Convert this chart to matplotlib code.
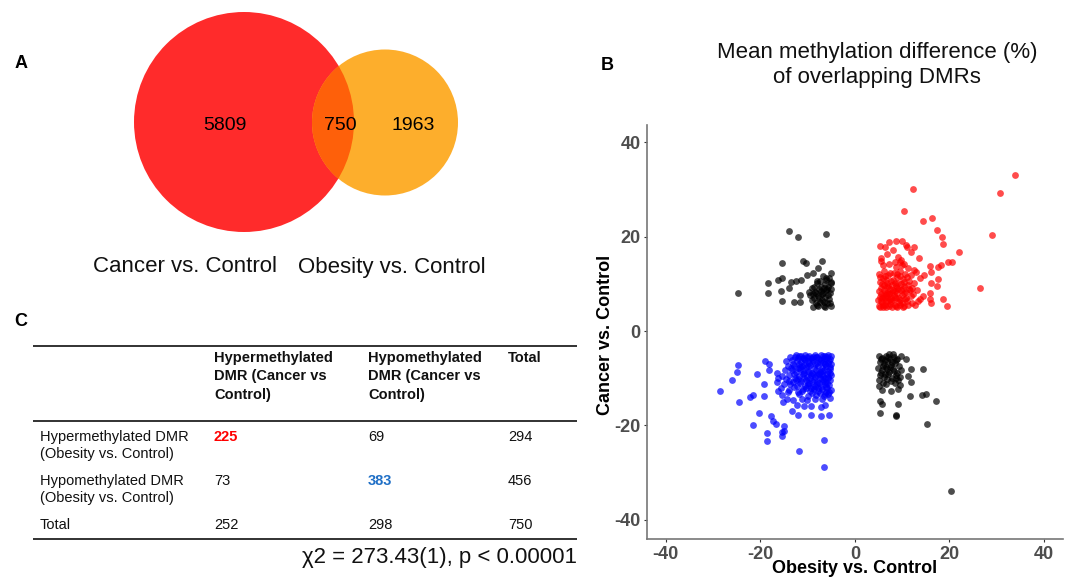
import numpy as np
import matplotlib
matplotlib.use('Agg')
import matplotlib.pyplot as plt
from matplotlib.patches import Circle

plt.rcParams['font.family'] = ['Liberation Sans', 'DejaVu Sans']
plt.rcParams['axes.unicode_minus'] = False

# ---------------- data ----------------
# Venn counts (panel A)
venn_labels = ['Cancer vs. Control', 'Obesity vs. Control']
venn_counts = [5809, 750, 1963]  # cancer only, overlap, obesity only

# contingency table (panel C)
col_headers = ['Hypermethylated\nDMR (Cancer vs\nControl)',
               'Hypomethylated\nDMR (Cancer vs\nControl)', 'Total']
row_headers = ['Hypermethylated DMR\n(Obesity vs. Control)',
               'Hypomethylated DMR\n(Obesity vs. Control)', 'Total']
table_vals = [[225, 69, 294],
              [73, 383, 456],
              [252, 298, 750]]
chi_text = 'χ2 = 273.43(1), p < 0.00001'

# scatter (panel B): mean methylation difference
# hypermethylated in both (red)
red_pts = [
    (33.8, 33.0), (30.7, 29.3), (12.4, 30.0), (10.4, 25.4), (14.4, 23.4), (16.4, 24.0),
    (17.3, 21.5), (18.4, 20.0), (18.6, 18.4), (29.0, 20.3), (22.0, 16.7), (26.4, 9.2),
    (20.6, 14.6), (19.8, 14.6), (18.2, 14.0), (17.6, 13.6), (15.8, 13.7), (16.1, 12.6),
    (14.7, 11.9), (17.5, 11.0), (16.0, 10.2), (17.4, 9.6), (15.9, 8.0), (18.7, 6.8),
    (19.5, 5.3), (13.5, 15.5), (12.5, 17.8), (11.8, 16.7), (11.1, 17.9), (10.8, 18.3),
    (10.0, 19.1), (8.6, 19.1), (7.2, 18.9), (6.3, 17.7), (5.3, 18.0), (5.6, 15.4),
    (9.1, 15.7), (9.5, 14.7), (10.0, 14.0), (8.4, 14.7), (11.9, 11.9), (13.0, 12.6),
    (13.7, 11.2), (14.4, 7.4), (13.7, 6.7), (15.8, 6.7), (16.2, 6.0),
    (5.2, 5.4), (5.8, 6.1), (6.3, 5.6), (6.9, 7.2), (7.4, 5.8), (8.1, 6.5), (8.7, 5.3),
    (9.3, 7.1), (9.9, 5.9), (10.6, 6.8), (11.2, 5.5), (11.8, 7.4), (5.5, 7.9), (6.1, 8.6),
    (6.7, 9.3), (7.3, 8.1), (7.9, 9.8), (8.5, 8.4), (9.1, 10.2), (9.7, 8.8), (10.3, 9.6),
    (10.9, 8.2), (11.5, 10.6), (12.1, 9.1), (5.3, 10.4), (5.9, 11.2), (6.5, 10.9),
    (7.1, 11.8), (7.7, 10.5), (8.3, 12.3), (8.9, 11.4), (9.5, 12.7), (10.1, 11.1),
    (10.7, 12.0), (5.1, 12.1), (6.2, 12.8), (5.6, 9.1), (6.4, 6.9), (7.0, 6.3), (7.6, 7.0),
    (8.2, 7.7), (8.8, 6.9), (9.4, 6.2), (10.0, 7.6), (10.4, 5.4), (11.0, 6.3), (5.0, 6.6),
    (5.4, 5.0), (6.0, 5.2), (6.6, 5.1), (7.2, 5.3), (7.8, 5.1), (8.4, 5.6), (9.0, 5.2),
    (9.6, 5.5), (10.2, 5.1), (5.7, 6.9), (6.8, 8.0), (7.5, 9.0), (8.0, 8.8), (8.6, 9.6),
    (9.2, 9.0), (9.8, 10.0), (6.0, 7.4), (6.6, 7.7), (7.2, 7.9), (5.2, 8.4), (5.8, 10.0),
    (6.9, 10.1), (7.4, 12.4), (8.1, 10.9), (9.0, 12.0), (10.4, 10.3), (11.1, 11.4),
    (11.7, 8.6), (12.3, 7.8), (12.0, 5.9), (11.4, 8.9), (10.8, 7.1), (6.3, 11.6),
    (5.4, 11.5), (7.0, 9.5), (8.4, 10.2), (9.6, 11.7), (12.6, 10.1), (13.1, 8.7),
    (13.4, 6.4), (12.8, 5.6), (7.7, 6.4), (6.2, 9.7), (9.8, 15.0), (10.5, 14.2),
    (11.2, 13.3), (8.8, 13.6), (7.3, 14.2), (6.0, 13.9), (5.5, 14.8), (12.5, 12.9),
    (6.8, 16.3), (8.0, 17.2),
    (5.5, 6.3), (6.5, 6.4), (7.5, 6.7), (8.5, 7.2), (9.5, 6.6), (10.5, 8.0), (5.3, 7.2),
    (6.3, 8.0), (7.8, 8.3), (9.0, 8.0), (5.9, 5.6), (8.9, 9.2), (10.1, 9.0), (11.3, 9.8),
]

# hypomethylated in both (blue)
blue_pts = [
    (-28.5, -12.6), (-24.8, -7.2), (-24.9, -8.6), (-25.9, -10.4), (-24.4, -15.1),
    (-19.0, -6.4), (-18.1, -7.0), (-18.1, -8.3), (-20.6, -9.2), (-19.2, -11.3),
    (-22.2, -14.0), (-21.5, -13.6), (-19.2, -13.8), (-20.2, -17.4), (-21.5, -19.8),
    (-17.7, -17.9), (-17.2, -19.1), (-16.7, -19.6), (-14.9, -20.2), (-15.3, -21.3),
    (-14.9, -21.2), (-18.5, -21.5), (-18.6, -23.3), (-15.5, -22.3), (-11.9, -25.4),
    (-6.5, -23.1), (-6.5, -28.7), (-12.0, -17.7), (-10.7, -15.8), (-9.3, -15.9),
    (-9.3, -17.7), (-7.2, -18.0), (-5.5, -17.7), (-13.2, -17.0), (-12.3, -15.7),
    (-7.1, -16.0), (-6.3, -15.7), (-16.5, -10.7), (-16.2, -12.8), (-15.5, -13.6),
    (-15.1, -15.0), (-14.4, -14.3), (-16.5, -8.9), (-16.2, -10.0), (-13.0, -14.6),
    (-11.2, -14.3), (-10.2, -14.6), (-8.4, -14.4),
    (-5.1, -5.2), (-5.9, -5.6), (-6.8, -5.3), (-7.6, -5.9), (-8.5, -5.1), (-9.3, -5.7),
    (-10.2, -5.4), (-11.0, -5.8), (-11.9, -5.2), (-12.7, -5.6), (-5.4, -6.4), (-6.3, -6.9),
    (-7.1, -6.2), (-8.0, -6.7), (-8.8, -6.3), (-9.7, -6.8), (-10.5, -6.1), (-11.4, -6.6),
    (-12.2, -6.3), (-13.1, -6.9), (-5.2, -7.6), (-6.0, -7.3), (-6.9, -7.8), (-7.7, -7.4),
    (-8.6, -7.9), (-9.4, -7.2), (-10.3, -7.7), (-11.1, -7.3), (-12.0, -7.8), (-12.8, -7.5),
    (-5.6, -8.5), (-6.5, -8.2), (-7.3, -8.7), (-8.2, -8.3), (-9.0, -8.8), (-9.9, -8.4),
    (-10.7, -8.9), (-11.6, -8.1), (-12.4, -8.6), (-13.3, -8.3), (-5.0, -9.4), (-5.8, -9.1),
    (-6.7, -9.6), (-7.5, -9.2), (-8.4, -9.7), (-9.2, -9.3), (-10.1, -9.8), (-10.9, -9.2),
    (-11.8, -9.5), (-12.6, -9.9), (-5.3, -10.3), (-6.2, -10.7), (-7.0, -10.2), (-7.9, -10.8),
    (-8.7, -10.4), (-9.6, -10.9), (-10.4, -10.3), (-11.3, -10.6), (-12.1, -10.1),
    (-13.0, -10.8), (-5.5, -11.5), (-6.4, -11.2), (-7.2, -11.8), (-8.1, -11.3), (-8.9, -11.9),
    (-9.8, -11.4), (-10.6, -11.7), (-11.5, -11.1), (-12.3, -11.6), (-13.6, -11.2),
    (-5.1, -12.4), (-6.0, -12.9), (-6.9, -12.2), (-7.8, -12.7), (-8.6, -12.3), (-9.5, -12.8),
    (-10.3, -12.1), (-11.2, -12.6), (-12.0, -12.9), (-13.9, -12.4), (-5.7, -13.3),
    (-6.6, -13.8), (-7.4, -13.1), (-8.3, -13.6), (-9.1, -13.2), (-10.0, -13.7),
    (-11.8, -13.4), (-14.2, -13.0), (-5.2, -14.1), (-7.0, -14.4), (-5.3, -5.9), (-6.1, -6.0),
    (-7.3, -6.6), (-8.3, -5.5), (-9.0, -6.0), (-9.9, -6.3), (-10.8, -7.1), (-11.7, -7.0),
    (-6.4, -7.0), (-7.0, -8.4), (-7.8, -8.9), (-8.8, -9.0), (-6.2, -9.9), (-5.6, -10.0),
    (-9.4, -10.0), (-10.0, -11.0), (-6.8, -10.5), (-8.4, -11.6), (-5.9, -12.1), (-7.6, -11.0),
    (-13.8, -5.5), (-14.5, -6.3), (-14.1, -7.4), (-14.8, -8.2), (-13.9, -9.3), (-14.6, -10.2),
    (-15.3, -9.6), (-14.9, -11.3), (-15.6, -12.1), (-13.5, -7.9), (-12.5, -5.1), (-11.4, -5.3),
    (-10.7, -6.0), (-9.6, -5.2), (-8.0, -5.4), (-6.6, -5.7), (-5.7, -6.7), (-5.2, -8.1),
    (-5.9, -11.0), (-5.5, -13.0),
    (-5.6, -5.0), (-6.4, -5.3), (-7.2, -5.0), (-8.9, -5.5), (-10.6, -5.0), (-12.1, -5.8),
    (-5.0, -6.9), (-6.7, -6.5), (-8.4, -7.0), (-9.9, -7.5), (-11.5, -7.6), (-13.2, -6.1),
    (-5.3, -8.8), (-6.9, -9.0), (-8.0, -9.4), (-9.6, -8.6), (-11.0, -8.4), (-12.9, -9.1),
    (-5.7, -9.8), (-7.4, -10.0), (-9.1, -10.6), (-10.8, -10.0), (-12.5, -10.4), (-14.0, -10.5),
    (-6.1, -11.8), (-7.7, -12.1), (-9.3, -12.0), (-10.9, -12.3), (-12.8, -11.9), (-6.3, -13.4),
]

# discordant DMRs (black)
black_pts = [
    # hypo in obesity, hyper in cancer
    (-13.9, 21.2), (-12.0, 20.0), (-6.1, 20.5), (-24.8, 8.1), (-15.5, 14.5), (-11.0, 14.8),
    (-10.3, 14.5), (-7.0, 14.9), (-7.8, 13.3), (-8.8, 12.2), (-18.3, 10.2), (-16.3, 10.9),
    (-15.3, 11.3), (-18.3, 8.1), (-15.6, 8.5), (-13.9, 9.1), (-13.4, 10.3), (-12.5, 10.6),
    (-11.4, 10.9), (-10.1, 11.9), (-15.3, 6.4), (-12.8, 6.2), (-11.5, 6.1), (-11.6, 7.6),
    (-5.1, 12.4), (-6.0, 11.2), (-5.1, 10.1),
    (-5.1, 5.3), (-5.8, 5.9), (-6.6, 5.4), (-7.3, 6.1), (-8.1, 5.6), (-8.9, 5.2), (-5.4, 6.7),
    (-6.2, 7.2), (-7.0, 6.6), (-7.8, 7.4), (-8.6, 6.9), (-9.4, 7.6), (-5.2, 8.1), (-6.0, 8.6),
    (-6.8, 8.0), (-7.6, 8.9), (-8.4, 8.3), (-9.1, 9.1), (-5.6, 9.4), (-6.4, 9.9), (-7.2, 9.3),
    (-8.0, 10.1), (-5.0, 10.3), (-6.1, 10.8), (-7.4, 10.6), (-5.3, 6.0), (-6.5, 6.1),
    (-7.7, 5.3), (-8.3, 6.0), (-9.0, 6.5), (-5.7, 7.6), (-6.9, 7.8), (-8.2, 8.0), (-5.9, 8.9),
    (-7.1, 8.5), (-8.7, 9.4), (-5.4, 11.3), (-6.7, 11.6), (-7.9, 10.7), (-9.7, 8.2),
    (-6.3, 5.1), (-7.5, 7.0), (-5.1, 9.0), (-6.6, 9.1), (-8.9, 7.8),
    # hyper in obesity, hypo in cancer
    (20.4, -33.9), (15.2, -19.6), (17.1, -14.8), (14.1, -13.6), (15.0, -13.4), (14.4, -8.1),
    (11.7, -13.7), (11.9, -8.1), (11.3, -9.5), (11.8, -10.7), (10.9, -5.9), (9.1, -12.2),
    (7.7, -12.6), (5.8, -12.5), (5.3, -14.8), (5.8, -15.5), (9.1, -15.5), (5.3, -17.3),
    (8.6, -17.9), (8.8, -17.8), (9.1, -10.4), (8.4, -11.1), (8.8, -10.0), (9.5, -11.4),
    (5.1, -5.2), (5.8, -5.7), (6.6, -5.3), (7.4, -6.0), (8.2, -5.5), (9.0, -5.9), (9.7, -5.3),
    (5.3, -6.5), (6.1, -7.0), (6.9, -6.4), (7.7, -7.2), (8.5, -6.7), (9.3, -7.4), (5.0, -7.8),
    (5.7, -8.3), (6.5, -7.7), (7.3, -8.6), (8.1, -8.0), (8.9, -8.8), (9.8, -8.2), (5.4, -9.3),
    (6.2, -9.8), (7.0, -9.1), (7.8, -9.9), (8.6, -9.4), (5.2, -10.4), (6.0, -10.9),
    (6.8, -10.2), (5.5, -5.9), (6.3, -6.1), (7.1, -5.6), (7.9, -6.6), (8.7, -6.1), (5.9, -7.4),
    (6.7, -8.1), (7.5, -7.6), (8.3, -8.5), (5.6, -8.9), (6.4, -9.0), (7.6, -10.6),
    (5.1, -11.6), (6.6, -11.2), (7.2, -4.9), (8.0, -4.8), (9.5, -9.7),
]

# ---------------- figure ----------------
fig = plt.figure(figsize=(10.7, 5.79), dpi=100)

# overlay axes in pixel units for panels A and C
ax0 = fig.add_axes([0, 0, 1, 1])
ax0.set_xlim(0, 1070)
ax0.set_ylim(579, 0)
ax0.set_aspect('equal')
ax0.axis('off')

# panel letters
ax0.text(21, 63, 'A', fontsize=13, fontweight='bold', ha='center', va='center')
ax0.text(607, 65, 'B', fontsize=13, fontweight='bold', ha='center', va='center')
ax0.text(21, 322, 'C', fontsize=13, fontweight='bold', ha='center', va='center')

# --- Venn (A) ---
c_red = Circle((244, 122), 110, facecolor='#ff2b2b', edgecolor='none')
c_org = Circle((385, 122.5), 73, facecolor='#fdae2c', edgecolor='none')
ax0.add_patch(c_red)
ax0.add_patch(c_org)
c_ovl = Circle((244, 122), 110, facecolor='#fe600a', edgecolor='none')
ax0.add_patch(c_ovl)
c_ovl.set_clip_path(c_org)

ax0.text(225, 125, str(venn_counts[0]), fontsize=14, ha='center', va='center')
ax0.text(340, 125, str(venn_counts[1]), fontsize=14, ha='center', va='center')
ax0.text(413, 125, str(venn_counts[2]), fontsize=14, ha='center', va='center')
ax0.text(185, 266, venn_labels[0], fontsize=16, ha='center', va='center', color='#111111')
ax0.text(392, 267, venn_labels[1], fontsize=16, ha='center', va='center', color='#111111')

# --- table (C) ---
x_left, x_right = 33, 577
for yy in (346, 421, 539):
    ax0.plot([x_left, x_right], [yy, yy], color='#222222', lw=1.3, solid_capstyle='butt')

col_x = [214, 368, 508]
for cx, h in zip(col_x, col_headers):
    ax0.text(cx, 351, h, fontsize=10.5, fontweight='bold', ha='left', va='top',
             linespacing=1.4, color='#111111')

row_y = [437, 481, 525]
for ry, lab, vals in zip(row_y, row_headers, table_vals):
    ax0.text(40, ry - 7, lab, fontsize=10.5, ha='left', va='top', linespacing=1.25,
             color='#111111')
    for j, (cx, v) in enumerate(zip(col_x, vals)):
        col = '#111111'
        wt = 'normal'
        if ry == row_y[0] and j == 0:
            col, wt = '#ff0000', 'bold'
        if ry == row_y[1] and j == 1:
            col, wt = '#1f6fc6', 'bold'
        ax0.text(cx, ry, str(v), fontsize=10.5, ha='left', va='center', color=col,
                 fontweight=wt)

ax0.text(577, 558, chi_text, fontsize=16, ha='right', va='center', color='#111111')

# --- scatter (B) ---
ax = fig.add_axes([0.6044, 0.0686, 0.389, 0.716])
for pts, col in ((black_pts, 'black'), (red_pts, 'red'), (blue_pts, 'blue')):
    arr = np.array(pts)
    ax.scatter(arr[:, 0], arr[:, 1], s=24, color=col, alpha=0.7, linewidths=0)

ax.set_xlim(-44, 44)
ax.set_ylim(-44.1, 43.7)
ax.set_xticks([-40, -20, 0, 20, 40])
ax.set_yticks([-40, -20, 0, 20, 40])
for s in ('top', 'right'):
    ax.spines[s].set_visible(False)
for s in ('left', 'bottom'):
    ax.spines[s].set_color('#777777')
    ax.spines[s].set_linewidth(1.2)
ax.tick_params(length=2.5, width=0.8, color='#333333', labelsize=13, labelcolor='#4d4d4d', pad=2)
for lab in ax.get_xticklabels() + ax.get_yticklabels():
    lab.set_fontweight('bold')
ax.set_xlabel('Obesity vs. Control', fontsize=13, fontweight='bold', va='center')
ax.set_ylabel('Cancer vs. Control', fontsize=13, fontweight='bold', va='center')
ax.xaxis.set_label_coords(0.5, -0.0716)
ax.yaxis.set_label_coords(-0.100, 0.493)

fig.text(877 / 1070, 1 - 65 / 579, 'Mean methylation difference (%)\nof overlapping DMRs',
         fontsize=16, ha='center', va='center', linespacing=1.3, color='#111111')

fig.savefig('out.png', dpi=100)
